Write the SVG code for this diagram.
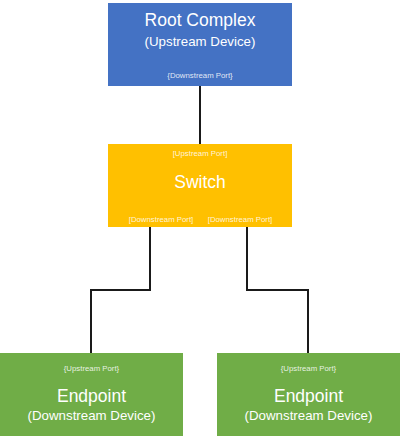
<svg xmlns="http://www.w3.org/2000/svg" width="400" height="437" viewBox="0 0 400 437">
<style>
.t{font-family:"Liberation Sans",Arial,sans-serif;fill:#fff;text-anchor:middle}
.big{font-size:17.5px}
.mid{font-size:13.3px}
.small{font-size:7.8px;fill-opacity:0.85}
.con{fill:none;stroke:#1a1a1a;stroke-width:2}
</style>
<rect width="400" height="437" fill="#fff"/>
<g id="connectors">
<path class="con" d="M200 86V144"/>
<path class="con" d="M150 227V290H91V353"/>
<path class="con" d="M247 227V290H308V353"/>
</g>
<g id="root">
<rect x="108" y="3" width="184" height="83" fill="#4472C4"/>
<text class="t big" x="200" y="26">Root Complex</text>
<text class="t mid" x="200" y="46">(Upstream Device)</text>
<text class="t small" x="200" y="78">{Downstream Port}</text>
</g>
<g id="switch">
<rect x="108" y="144" width="184" height="83" fill="#FFC000"/>
<text class="t small" x="200" y="156">[Upstream Port]</text>
<text class="t big" x="200" y="188">Switch</text>
<text class="t small" x="161" y="222">[Downstream Port]</text>
<text class="t small" x="240" y="222">[Downstream Port]</text>
</g>
<g id="endpoint1">
<rect x="0" y="353" width="183" height="83" fill="#70AD47"/>
<text class="t small" x="91.5" y="371">{Upstream Port}</text>
<text class="t big" x="91.5" y="402">Endpoint</text>
<text class="t mid" x="91.5" y="420">(Downstream Device)</text>
</g>
<g id="endpoint2">
<rect x="217" y="353" width="183" height="83" fill="#70AD47"/>
<text class="t small" x="308.5" y="371">{Upstream Port}</text>
<text class="t big" x="308.5" y="402">Endpoint</text>
<text class="t mid" x="308.5" y="420">(Downstream Device)</text>
</g>
</svg>
